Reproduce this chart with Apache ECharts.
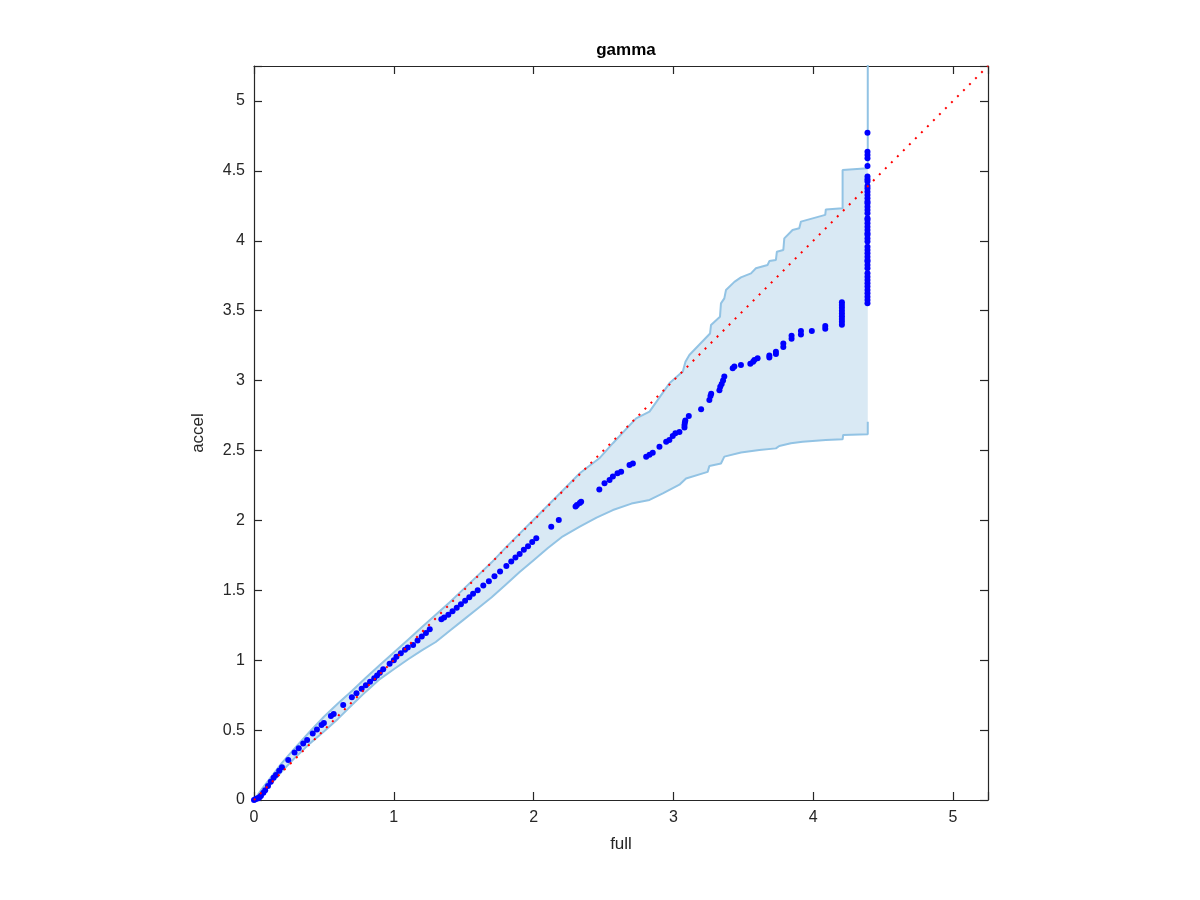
<!DOCTYPE html>
<html>
<head>
<meta charset="utf-8">
<script src="https://cdn.jsdelivr.net/npm/echarts@6/dist/echarts.min.js"></script>
<style>html,body{margin:0;padding:0;background:#fff;}#c{width:1200px;height:900px;}</style>
</head>
<body>
<div id="c"></div>
<script>
// ---- data ----
const chartTitle = 'gamma';
const xName = 'full';
const yName = 'accel';
const xTicks = [0, 1, 2, 3, 4, 5];
const yTicks = [0, 0.5, 1, 1.5, 2, 2.5, 3, 3.5, 4, 4.5, 5];
const axisMax = 5.25;

const upperBand = [
  [0,0],[0.05,0.07],[0.1,0.135],[0.2,0.265],[0.3,0.38],[0.4,0.49],[0.5,0.595],
  [0.6,0.69],[0.7,0.78],[0.8,0.875],[0.9,0.965],[1.0,1.055],[1.1,1.145],[1.2,1.235],
  [1.3,1.325],[1.4,1.415],[1.5,1.51],[1.6,1.605],[1.7,1.7],[1.8,1.805],[1.9,1.905],
  [2.0,2.005],[2.1,2.105],[2.2,2.205],[2.33,2.337],[2.47,2.444],[2.567,2.552],
  [2.733,2.73],[2.829,2.778],[2.971,2.98],[3.05,3.05],[3.067,3.064],[3.086,3.135],
  [3.114,3.183],[3.262,3.337],[3.269,3.398],[3.333,3.457],[3.34,3.552],[3.364,3.588],
  [3.376,3.648],[3.436,3.706],[3.483,3.738],[3.555,3.767],[3.59,3.803],[3.674,3.827],
  [3.686,3.855],[3.733,3.863],[3.74,3.922],[3.786,3.934],[3.793,4.017],[3.852,4.077],
  [3.9,4.089],[3.912,4.137],[4.086,4.185],[4.09,4.224],[4.21,4.232],[4.21,4.506],
  [4.39,4.518],[4.39,6]
];

const lowerBand = [
  [0,0],[0.05,0.035],[0.1,0.09],[0.2,0.205],[0.3,0.31],[0.4,0.405],[0.5,0.49],
  [0.6,0.58],[0.7,0.68],[0.8,0.775],[0.9,0.865],[1.0,0.935],[1.1,1.005],[1.2,1.07],
  [1.3,1.13],[1.4,1.21],[1.5,1.29],[1.6,1.37],[1.7,1.45],[1.8,1.54],[1.9,1.63],
  [2.0,1.715],[2.1,1.8],[2.2,1.88],[2.33,1.955],[2.45,2.02],[2.567,2.074],[2.7,2.12],
  [2.829,2.146],[2.924,2.193],[3.043,2.255],[3.09,2.3],[3.245,2.347],[3.257,2.389],
  [3.34,2.407],[3.364,2.456],[3.483,2.486],[3.614,2.504],[3.733,2.515],[3.757,2.532],
  [3.84,2.551],[3.924,2.562],[4.09,2.575],[4.21,2.58],[4.214,2.611],[4.39,2.616],
  [4.39,2.705]
];

const diagonal = [[0,0],[5.25,5.25]];

const points = [
  [0,0],[0.01,0.005],[0.02,0.01],[0.03,0.012],[0.04,0.02],[0.05,0.03],[0.067,0.052],
  [0.08,0.07],[0.1,0.1],[0.12,0.13],[0.14,0.16],[0.157,0.179],[0.18,0.21],[0.2,0.235],
  [0.245,0.286],[0.29,0.34],[0.32,0.37],[0.352,0.405],[0.38,0.43],[0.42,0.475],
  [0.45,0.505],[0.483,0.536],[0.5,0.55],[0.55,0.6],[0.57,0.615],[0.638,0.68],
  [0.70,0.735],[0.733,0.763],[0.77,0.795],[0.8,0.82],[0.83,0.845],[0.86,0.87],
  [0.88,0.89],[0.9,0.91],[0.924,0.935],[0.97,0.975],[1.0,1.0],[1.019,1.025],
  [1.05,1.05],[1.08,1.075],[1.1,1.09],[1.138,1.109],[1.17,1.14],[1.2,1.17],
  [1.23,1.195],[1.257,1.221],[1.34,1.292],[1.36,1.305],[1.39,1.325],[1.42,1.35],
  [1.45,1.375],[1.48,1.4],[1.51,1.425],[1.54,1.45],[1.567,1.475],[1.6,1.5],
  [1.64,1.535],[1.68,1.565],[1.72,1.6],[1.76,1.635],[1.805,1.674],[1.84,1.705],
  [1.87,1.735],[1.9,1.76],[1.93,1.79],[1.96,1.815],[1.99,1.845],[2.019,1.872],
  [2.126,1.955],[2.18,2.003],[2.3,2.1],[2.31,2.11],[2.33,2.125],[2.34,2.134],
  [2.47,2.22],[2.507,2.265],[2.543,2.289],[2.567,2.313],[2.6,2.337],[2.626,2.348],
  [2.686,2.396],[2.71,2.407],[2.805,2.456],[2.829,2.47],[2.852,2.484],[2.9,2.527],
  [2.948,2.563],[2.971,2.575],[2.995,2.604],[3.014,2.623],[3.043,2.633],
  [3.079,2.665],[3.079,2.682],[3.082,2.7],[3.085,2.715],[3.11,2.747],[3.198,2.794],
  [3.257,2.861],[3.265,2.89],[3.27,2.905],[3.329,2.93],[3.335,2.955],[3.345,2.975],
  [3.355,3.0],[3.364,3.03],[3.424,3.088],[3.436,3.1],[3.483,3.112],[3.55,3.12],
  [3.57,3.135],[3.579,3.147],[3.602,3.159],[3.686,3.165],[3.686,3.18],[3.733,3.19],
  [3.733,3.207],[3.786,3.24],[3.786,3.266],[3.845,3.3],[3.845,3.32],[3.912,3.33],
  [3.912,3.355],[3.99,3.355],[4.086,3.37],[4.086,3.39],
  [4.205,3.4],[4.205,3.42],[4.205,3.44],[4.205,3.46],[4.205,3.48],[4.205,3.5],
  [4.205,3.52],[4.205,3.54],[4.205,3.56],
  [4.388,3.553],[4.388,3.577],[4.388,3.6],[4.388,3.624],[4.388,3.648],[4.388,3.672],
  [4.388,3.696],[4.388,3.72],[4.388,3.743],[4.388,3.767],[4.388,3.803],[4.388,3.827],
  [4.388,3.851],[4.388,3.863],[4.388,3.886],[4.388,3.911],[4.388,3.934],[4.388,3.958],
  [4.388,3.994],[4.388,4.017],[4.388,4.041],[4.388,4.054],[4.388,4.077],[4.388,4.101],
  [4.388,4.125],[4.388,4.149],[4.388,4.161],[4.388,4.196],[4.388,4.22],[4.388,4.244],
  [4.388,4.268],[4.388,4.28],[4.388,4.304],[4.388,4.328],[4.388,4.351],[4.388,4.373],
  [4.388,4.392],[4.388,4.423],[4.388,4.44],[4.388,4.459],[4.388,4.535],[4.388,4.59],
  [4.388,4.614],[4.388,4.637],[4.388,4.773]
];

// ---- chart ----
const textColor = '#262626';
const fontFam = 'Liberation Sans, Arial, Helvetica, sans-serif';
const chart = echarts.init(document.getElementById('c'), null, {renderer: 'canvas'});

function baseAxis(extra) {
  return Object.assign({
    type: 'value', min: 0, max: axisMax,
    axisLine: {show: true, onZero: false, lineStyle: {color: textColor, width: 1.2}},
    axisTick: {show: true, inside: true, length: 8, lineStyle: {color: textColor, width: 1.2}},
    splitLine: {show: false}
  }, extra);
}

const option = {
  animation: false,
  backgroundColor: '#fff',
  title: {
    text: chartTitle, left: 621, top: 37, textAlign: 'center',
    textStyle: {fontSize: 17, fontWeight: 'bold', color: '#000', fontFamily: fontFam}
  },
  grid: {left: 254, right: 212, top: 66, bottom: 100, containLabel: false},
  xAxis: [
    baseAxis({
      position: 'bottom', interval: xTicks[1] - xTicks[0],
      axisLabel: {color: textColor, fontSize: 16, margin: 10, fontFamily: fontFam,
        formatter: v => (xTicks.indexOf(v) >= 0 ? String(v) : '')},
      name: xName, nameLocation: 'middle', nameGap: 36,
      nameTextStyle: {color: textColor, fontSize: 17, fontFamily: fontFam}
    }),
    baseAxis({position: 'top', interval: xTicks[1] - xTicks[0], axisLabel: {show: false}})
  ],
  yAxis: [
    baseAxis({
      position: 'left', interval: yTicks[1] - yTicks[0],
      axisLabel: {color: textColor, fontSize: 16, margin: 9, fontFamily: fontFam,
        formatter: v => (yTicks.indexOf(v) >= 0 ? String(v) : '')},
      name: yName, nameLocation: 'middle', nameGap: 47,
      nameTextStyle: {color: textColor, fontSize: 17, fontFamily: fontFam}
    }),
    baseAxis({position: 'right', interval: yTicks[1] - yTicks[0], axisLabel: {show: false}})
  ],
  series: [
    {
      type: 'custom', name: 'band', clip: true, silent: true, z: 1,
      data: [[0, 0]],
      renderItem: function (params, api) {
        const pts = upperBand.map(p => api.coord(p))
          .concat(lowerBand.slice().reverse().map(p => api.coord(p)));
        return {
          type: 'polygon',
          shape: {points: pts},
          style: {fill: '#d9e9f4', stroke: null}
        };
      }
    },
    {
      type: 'line', name: 'upper', data: upperBand, showSymbol: false, z: 2,
      lineStyle: {color: '#92c3e4', width: 2}, silent: true
    },
    {
      type: 'line', name: 'lower', data: lowerBand, showSymbol: false, z: 2,
      lineStyle: {color: '#92c3e4', width: 2}, silent: true
    },
    {
      type: 'scatter', name: 'points', data: points, z: 3,
      symbol: 'circle', symbolSize: 6,
      itemStyle: {color: '#0000ff', opacity: 1}
    },
    {
      type: 'line', name: 'diag', data: diagonal, showSymbol: false, z: 4,
      lineStyle: {color: '#ff0000', width: 2, type: [2, 6.5]}, silent: true
    }
  ]
};
chart.setOption(option);
</script>
</body>
</html>
